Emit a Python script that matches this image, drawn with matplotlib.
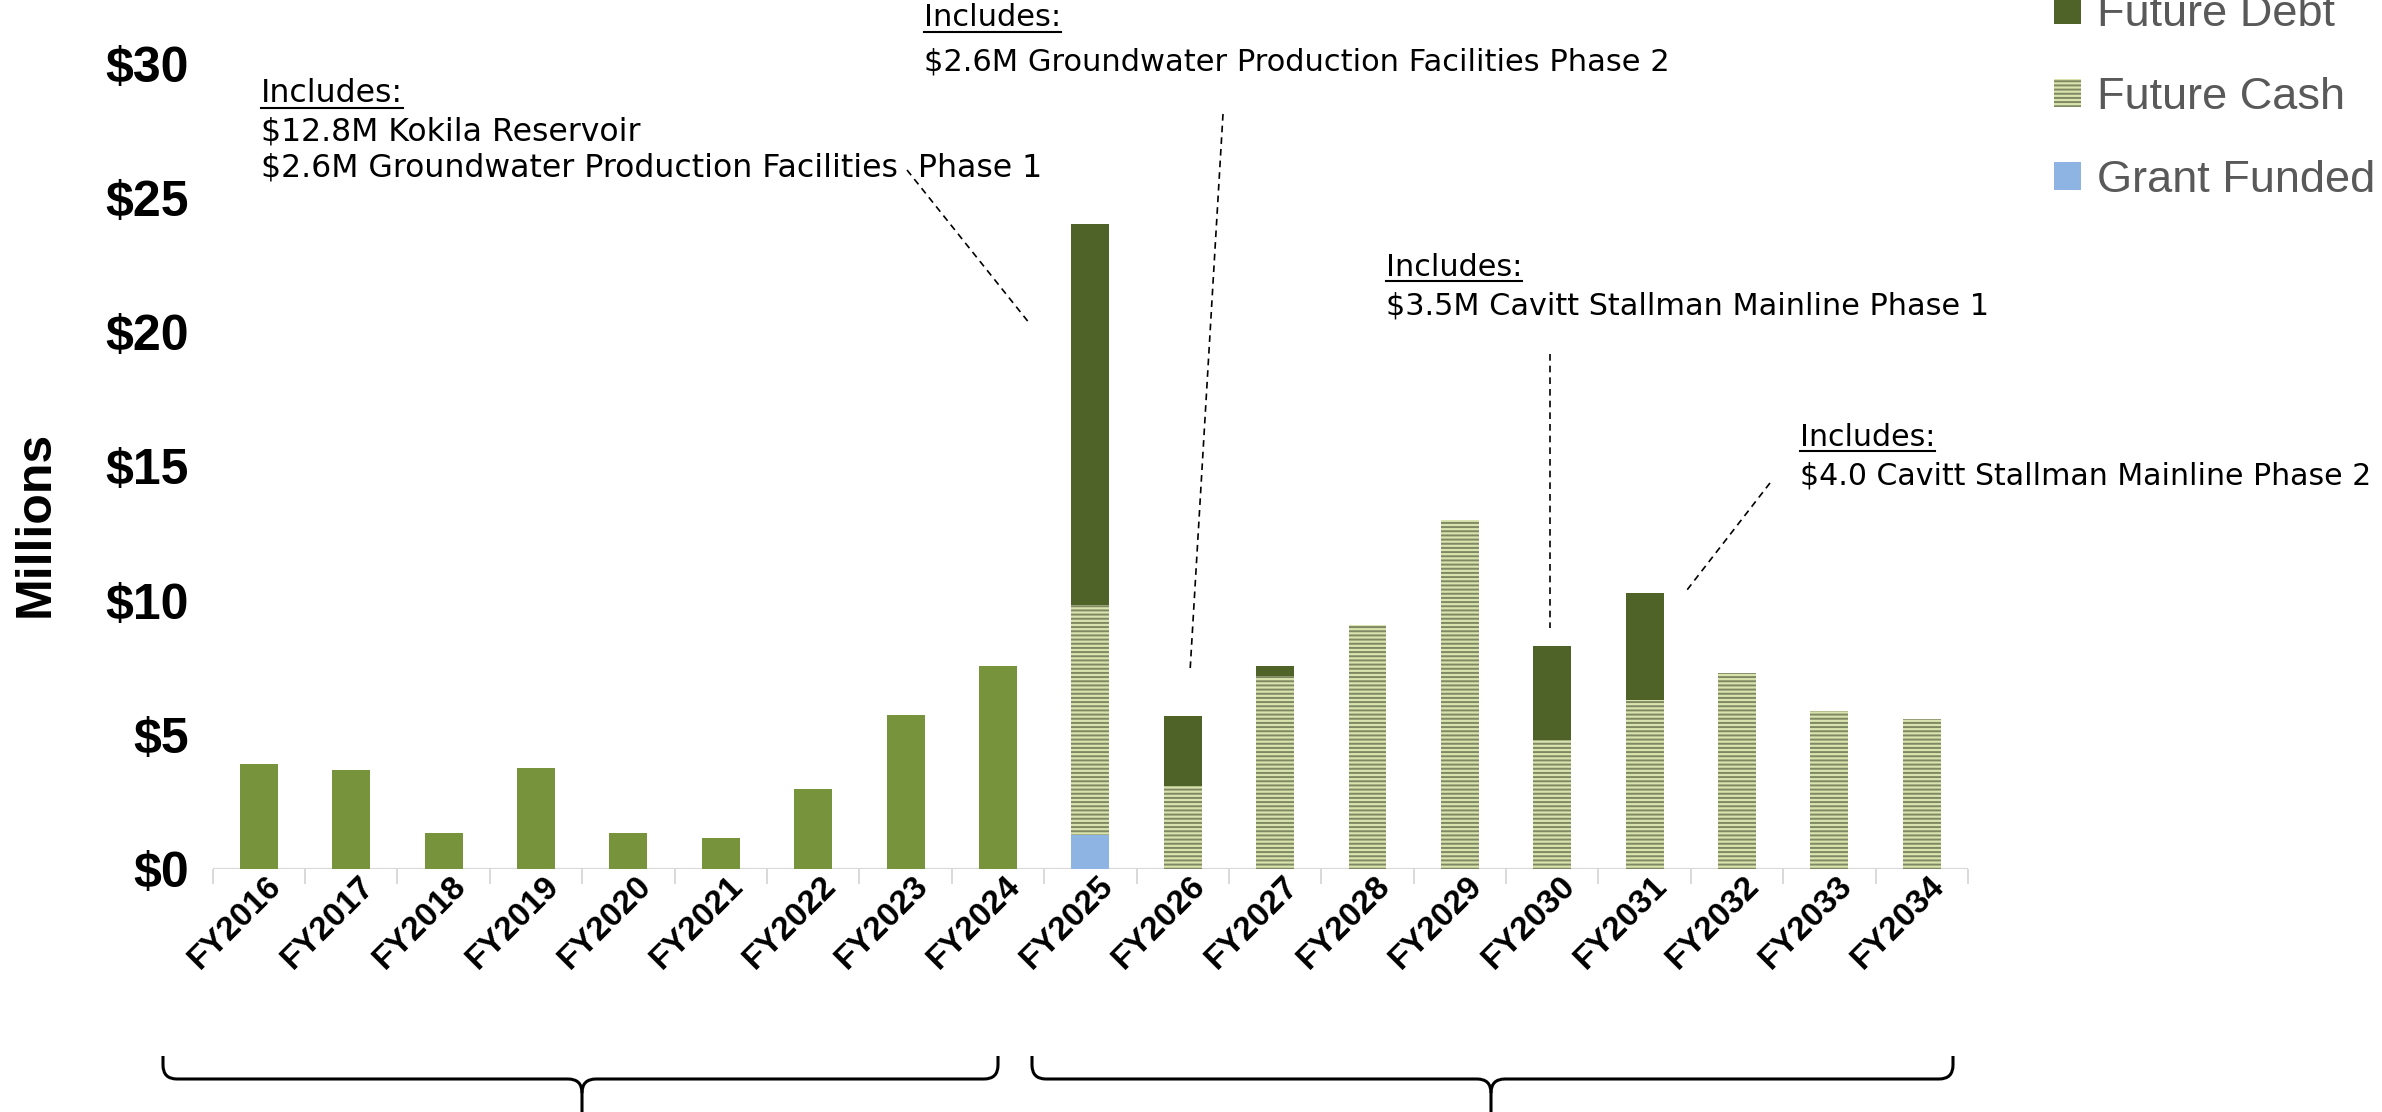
import matplotlib
matplotlib.use("Agg")
import matplotlib.pyplot as plt
import numpy as np
from matplotlib.path import Path
from matplotlib.patches import PathPatch
from matplotlib.lines import Line2D
import matplotlib.transforms as mtransforms

# ---------------- data ----------------
hist_years = ["FY2016", "FY2017", "FY2018", "FY2019", "FY2020",
              "FY2021", "FY2022", "FY2023", "FY2024"]
hist_values = [3.9, 3.7, 1.35, 3.75, 1.35, 1.15, 3.0, 5.75, 7.55]

future_years = ["FY2025", "FY2026", "FY2027", "FY2028", "FY2029",
                "FY2030", "FY2031", "FY2032", "FY2033", "FY2034"]
grant_funded = [1.25, 0, 0, 0, 0, 0, 0, 0, 0, 0]
future_cash = [8.6, 3.1, 7.2, 9.1, 13.0, 4.8, 6.3, 7.3, 5.9, 5.6]
future_debt = [14.2, 2.6, 0.35, 0, 0, 3.5, 4.0, 0, 0, 0]

y_ticks = [0, 5, 10, 15, 20, 25, 30]
y_tick_labels = ["$0", "$5", "$10", "$15", "$20", "$25", "$30"]

annotations = [
    ["$12.8M Kokila Reservoir", "$2.6M Groundwater Production Facilities  Phase 1"],
    ["$2.6M Groundwater Production Facilities Phase 2"],
    ["$3.5M Cavitt Stallman Mainline Phase 1"],
    ["$4.0 Cavitt Stallman Mainline Phase 2"],
]

# ---------------- figure ----------------
W, H = 2382, 1112
DPI = 100
plt.rcParams["hatch.linewidth"] = 1.4
fig = plt.figure(figsize=(W / DPI, H / DPI), dpi=DPI)
fig.patch.set_facecolor("white")


def fx(x):
    return x / W


def fy(y):
    return 1 - y / H


ax_left, ax_right, ax_top, ax_bottom = 212.7, 1968, 64, 869
ax = fig.add_axes([fx(ax_left), fy(ax_bottom), (ax_right - ax_left) / W,
                   (ax_bottom - ax_top) / H])

all_years = hist_years + future_years
n_hist = len(hist_years)
x_hist = np.arange(n_hist)
x_fut = np.arange(n_hist, n_hist + len(future_years))
bw = 0.41

C_ACT = "#77933C"
C_DEBT = "#4F6228"
C_CASH_FACE = "#D9E3AE"
C_CASH_HATCH = "#7E8862"
C_GRANT = "#8DB4E2"

ax.bar(x_hist, hist_values, width=bw, color=C_ACT, linewidth=0)
g = ax.bar(x_fut, grant_funded, width=bw, color=C_GRANT, linewidth=0,
           label="Grant Funded")
base_cash = np.array(grant_funded)
c = ax.bar(x_fut, future_cash, width=bw, bottom=base_cash,
           facecolor=C_CASH_FACE, edgecolor=C_CASH_HATCH, linewidth=0,
           hatch="----", label="Future Cash")
base_debt = base_cash + np.array(future_cash)
d = ax.bar(x_fut, future_debt, width=bw, bottom=base_debt, color=C_DEBT,
           linewidth=0, label="Future Debt")

ax.set_xlim(-0.5, len(all_years) - 0.5)
ax.set_ylim(0, 30)
for s in ax.spines.values():
    s.set_visible(False)
ax.axhline(0, color="#D9D9D9", lw=1.6, zorder=0.5)

ax.set_yticks(y_ticks)
ax.set_yticklabels(y_tick_labels, fontsize=36, fontweight="bold",
                   family=["Liberation Sans", "DejaVu Sans"])
ax.tick_params(axis="y", length=0, pad=17)

ax.set_xticks(np.arange(len(all_years)))
ax.set_xticklabels(all_years, rotation=45, ha="right", va="center",
                   rotation_mode="anchor", fontsize=24, fontweight="bold",
                   family=["Liberation Sans", "DejaVu Sans"])
ax.tick_params(axis="x", which="major", length=0, pad=9)
ax.set_xticks(np.arange(len(all_years) + 1) - 0.5, minor=True)
ax.tick_params(axis="x", which="minor", length=11, color="#D9D9D9", width=1.4)
offset = mtransforms.ScaledTranslation(18 / DPI, 0, fig.dpi_scale_trans)
for lab in ax.get_xticklabels():
    lab.set_transform(lab.get_transform() + offset)

fig.text(fx(36), fy(524), "Millions", rotation=90, ha="center", va="center",
         fontsize=36, fontweight="bold", family=["Liberation Sans", "DejaVu Sans"])

# legend
leg = fig.legend(handles=[d, c, g], labels=["Future Debt", "Future Cash", "Grant Funded"],
                 loc="upper left", bbox_to_anchor=(fx(2054), fy(-6)),
                 frameon=False, labelcolor="#595959",
                 handlelength=0.6, handleheight=0.6, handletextpad=0.35,
                 labelspacing=0.93, borderpad=0, borderaxespad=0,
                 prop={"family": ["Liberation Sans", "DejaVu Sans"], "size": 32.5})

# annotations
ann_pos = [
    (261, [93, 132, 168], 22.7),
    (924, [18, 62], 22.0),
    (1386, [267, 306], 21.8),
    (1800, [437, 476], 21.6),
]
fig.canvas.draw()
renderer = fig.canvas.get_renderer()
for (x0, ys, fs), lines in zip(ann_pos, annotations):
    ann_font = dict(fontsize=fs, family=["DejaVu Sans"], color="black",
                    va="center", ha="left")
    t = fig.text(fx(x0), fy(ys[0]), "Includes:", **ann_font)
    bb = t.get_window_extent(renderer)
    uy = bb.y0 + 1
    fig.add_artist(Line2D([bb.x0 / W, bb.x1 / W], [uy / H, uy / H],
                          transform=fig.transFigure, color="black", lw=1.5))
    for yy, line in zip(ys[1:], lines):
        fig.text(fx(x0), fy(yy), line, **ann_font)

# dashed leader lines
leaders = [((907, 170), (1030, 324)),
           ((1223, 114), (1190, 672)),
           ((1550, 354), (1550, 628)),
           ((1770, 483), (1687, 590))]
for (xa, ya), (xb, yb) in leaders:
    fig.add_artist(Line2D([fx(xa), fx(xb)], [fy(ya), fy(yb)],
                          transform=fig.transFigure, color="black", lw=1.2,
                          dashes=(4, 3)))


# braces
def brace(x0, x1, xm, ytop, yh, ybot, r=14):
    verts = [
        (x0, ytop), (x0, yh - r), (x0, yh), (x0 + r, yh),
        (xm - r, yh), (xm, yh), (xm, yh + r), (xm, ybot),
    ]
    codes = [Path.MOVETO, Path.LINETO, Path.CURVE3, Path.CURVE3,
             Path.LINETO, Path.CURVE3, Path.CURVE3, Path.LINETO]
    verts2 = [
        (x1, ytop), (x1, yh - r), (x1, yh), (x1 - r, yh),
        (xm + r, yh), (xm, yh), (xm, yh + r),
    ]
    codes2 = [Path.MOVETO, Path.LINETO, Path.CURVE3, Path.CURVE3,
              Path.LINETO, Path.CURVE3, Path.CURVE3]
    for vv, cc in ((verts, codes), (verts2, codes2)):
        vv = [(fx(a), fy(b)) for a, b in vv]
        fig.add_artist(PathPatch(Path(vv, cc), transform=fig.transFigure,
                                 facecolor="none", edgecolor="black", lw=2.2))


brace(163, 998, 582, 1056, 1079, 1115)
brace(1032, 1953, 1491, 1056, 1079, 1115)

fig.savefig("out.png", dpi=DPI, facecolor="white")
